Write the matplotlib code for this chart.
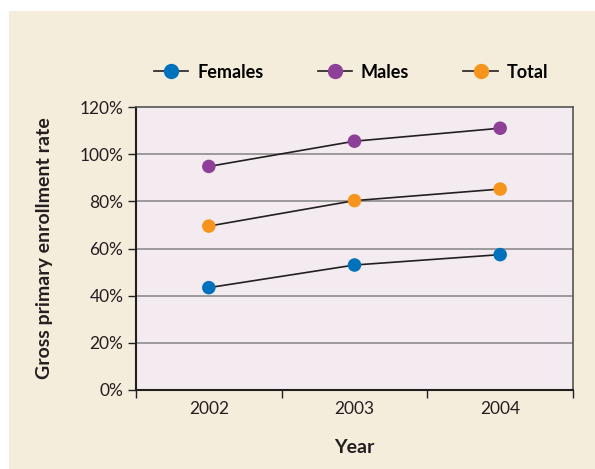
import matplotlib
matplotlib.use("Agg")
import matplotlib.pyplot as plt
from matplotlib.patches import Rectangle
from matplotlib.lines import Line2D

plt.rcParams['font.family'] = ['Lato', 'DejaVu Sans']

years = ["2002", "2003", "2004"]
females = [43.4, 53.0, 57.4]
males = [94.8, 105.5, 111.0]
total = [69.5, 80.3, 85.2]
series_names = ["Females", "Males", "Total"]
colors = ["#0072BC", "#8E3F98", "#F7941D"]
yticks = [0, 20, 40, 60, 80, 100, 120]

W, H = 595, 469
fig = plt.figure(figsize=(W/100, H/100), dpi=100)
fig.patch.set_facecolor("white")
fig.patches.append(Rectangle((9/W, 0), 1, 1 - 11/H, transform=fig.transFigure,
                             facecolor="#F5EDDC", edgecolor="none", zorder=-10))

ax = fig.add_axes([136/W, 1 - 390/H, (573-136)/W, (390-107)/H])
ax.set_facecolor("#F3EBF0")
x = [1, 2, 3]
for vals, c in zip([females, males, total], colors):
    ax.plot(x, vals, color="#231F20", lw=1.2, zorder=3)
    ax.scatter(x, vals, s=95, color=c, zorder=4, edgecolors="none")

ax.set_xlim(0.5, 3.5)
ax.set_ylim(0, 120)
ax.set_yticks(yticks)
ax.set_yticklabels([f"{v}%" for v in yticks], fontsize=12.5, color="#231F20")
ax.set_xticks(x)
ax.set_xticklabels(years, fontsize=12.5, color="#231F20")
ax.tick_params(axis='x', which='major', length=0, pad=8)
ax.set_xticks([0.5, 1.5, 2.5, 3.5], minor=True)
ax.tick_params(axis='x', which='minor', length=6, width=1, color="#231F20", direction='out')
ax.tick_params(axis='y', length=6, width=1, color="#231F20", pad=3)
for v in yticks[1:-1]:
    ax.axhline(v, color="#8C8C8C", lw=1.2, zorder=1)
for s in ["left", "bottom"]:
    ax.spines[s].set_color("#231F20")
    ax.spines[s].set_linewidth(1.5)
for s in ["top", "right"]:
    ax.spines[s].set_color("#555555")
    ax.spines[s].set_linewidth(1.2)

ax.set_xlabel("Year", fontsize=14, fontweight="bold", color="#231F20", labelpad=16)
ax.set_ylabel("Gross primary enrollment rate", fontsize=14, fontweight="bold",
              color="#231F20", labelpad=19)

handles = [Line2D([0], [0], color="#231F20", lw=1.2, marker='o', markersize=10,
                  markerfacecolor=c, markeredgecolor=c) for c in colors]
fig.legend(handles, series_names, loc="center", bbox_to_anchor=(351/W, 1 - 72/H),
           ncol=3, frameon=False, prop={'weight': 'bold', 'size': 13},
           handlelength=1.9, columnspacing=3.0, handletextpad=0.5)

fig.savefig("out.png", dpi=100, facecolor=fig.get_facecolor())
